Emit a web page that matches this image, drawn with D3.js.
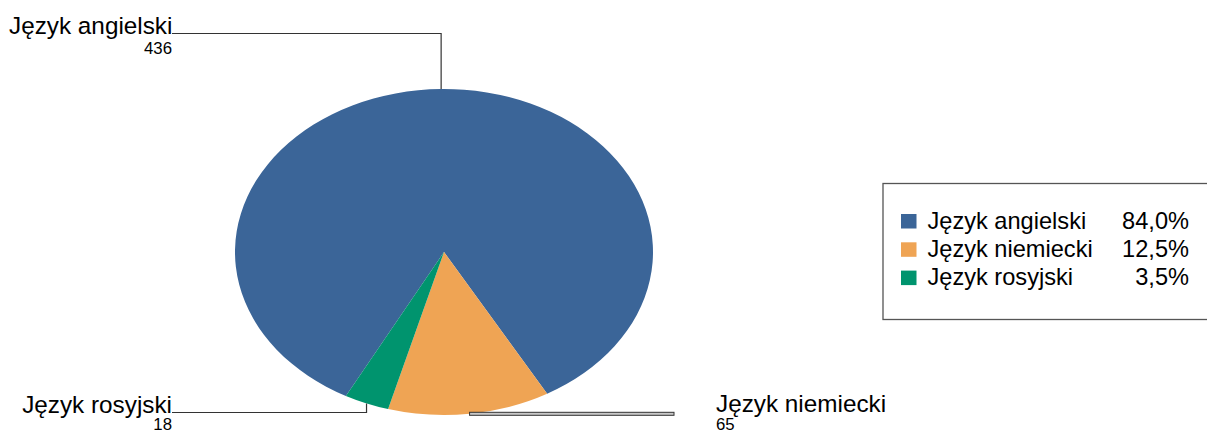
<!DOCTYPE html>
<html>
<head>
<meta charset="utf-8">
<script src="https://cdn.jsdelivr.net/npm/d3@7"></script>
<style>
  body { margin: 0; background: #fff; }
  text { font-family: "Liberation Sans", Arial, sans-serif; fill: #000; }
</style>
</head>
<body>
<div id="chart"></div>
<script>
// Data
const categories = ["Język angielski", "Język niemiecki", "Język rosyjski"];
const counts = [436, 65, 18];
const percentLabels = ["84,0%", "12,5%", "3,5%"];
const colors = ["#3b6598", "#efa454", "#00946e"];

const width = 1207, height = 432;

// Ellipse geometry of the pie
const cx = 444, cy = 252, rx = 209, ry = 163;
const startAngle = -152 * Math.PI / 180;

const svg = d3.select("#chart")
    .append("svg")
    .attr("width", width)
    .attr("height", height);

const pie = d3.pie()
    .sort(null)
    .value(d => d)
    .startAngle(startAngle)
    .endAngle(startAngle + 2 * Math.PI);

const arcs = pie(counts);
const arc = d3.arc().innerRadius(0).outerRadius(rx);

// pie squashed into an ellipse
svg.append("g")
    .attr("transform", `translate(${cx},${cy}) scale(1,${ry / rx})`)
    .selectAll("path")
    .data(arcs)
    .join("path")
    .attr("d", arc)
    .attr("fill", (d, i) => colors[i]);

// point on the ellipse edge at the slice middle
function edgePoint(d) {
    const a = (d.startAngle + d.endAngle) / 2;
    return [cx + rx * Math.sin(a), cy - ry * Math.cos(a)];
}

const lines = svg.append("g").attr("fill", "none").attr("stroke", "#333").attr("stroke-width", 1.2);

// Język angielski: up then left
const p0 = edgePoint(arcs[0]);
lines.append("path").attr("d", `M${p0[0]},${p0[1]} V33.5 H172`);
svg.append("text").attr("x", 9).attr("y", 33.5).attr("font-size", 24.3).text(categories[0]);
svg.append("text").attr("x", 172).attr("y", 53.5).attr("text-anchor", "end").attr("font-size", 16.8).text(counts[0]);

// Język niemiecki: grey bar
const p1 = edgePoint(arcs[1]);
svg.append("rect")
    .attr("x", p1[0]).attr("y", 412.3)
    .attr("width", 674 - p1[0]).attr("height", 3)
    .attr("fill", "#c8c8c8").attr("stroke", "#333").attr("stroke-width", 1);
svg.append("text").attr("x", 716).attr("y", 411.5).attr("font-size", 24.3).text(categories[1]);
svg.append("text").attr("x", 716).attr("y", 429.5).attr("font-size", 16.8).text(counts[1]);

// Język rosyjski: down then left
const p2 = edgePoint(arcs[2]);
lines.append("path").attr("d", `M${p2[0]},${p2[1]} V412.5 H172`);
svg.append("text").attr("x", 172).attr("y", 412.5).attr("text-anchor", "end").attr("font-size", 24.3).text(categories[2]);
svg.append("text").attr("x", 172).attr("y", 429.5).attr("text-anchor", "end").attr("font-size", 16.8).text(counts[2]);

// Legend
const legend = svg.append("g");
legend.append("rect")
    .attr("x", 883).attr("y", 183.5)
    .attr("width", 340).attr("height", 136)
    .attr("fill", "#fff").attr("stroke", "#555").attr("stroke-width", 1.3);

const rows = legend.selectAll("g.row")
    .data(categories)
    .join("g")
    .attr("class", "row")
    .attr("transform", (d, i) => `translate(0,${228.5 + i * 28.3})`);

rows.append("rect")
    .attr("x", 901).attr("y", -14.5)
    .attr("width", 15.5).attr("height", 14.5)
    .attr("fill", (d, i) => colors[i]);

rows.append("text")
    .attr("x", 927.5).attr("y", 0)
    .attr("font-size", 23.6)
    .text(d => d);

rows.append("text")
    .attr("x", 1189).attr("y", 0)
    .attr("text-anchor", "end")
    .attr("font-size", 23.6)
    .text((d, i) => percentLabels[i]);
</script>
</body>
</html>
